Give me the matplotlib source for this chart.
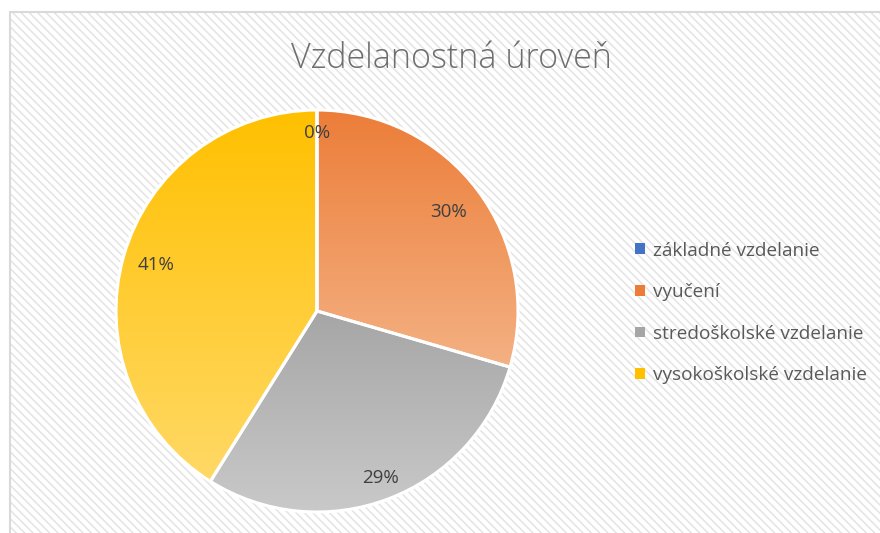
"""Vzdelanostná úroveň - koláčový graf"""
import numpy as np
import matplotlib.pyplot as plt
from matplotlib.patches import Rectangle
from matplotlib.colors import to_rgb

categories = ['základné vzdelanie', 'vyučení', 'stredoškolské vzdelanie',
              'vysokoškolské vzdelanie']
values = [0.0, 29.5, 29.4, 41.1]   # percent
title = 'Vzdelanostná úroveň'

# gradient colors (top, bottom) per slice
top_colors = ['#4472C4', '#EC7D38', '#A6A6A6', '#FFC000']
bot_colors = ['#8FAADC', '#F4B183', '#C9C9C9', '#FFD966']
label_dist = [0.885, 0.82, 0.89, 0.835]

plt.rcParams['font.family'] = ['Open Sans', 'DejaVu Sans']
plt.rcParams['hatch.linewidth'] = 1.1

W, H = 880, 533
fig = plt.figure(figsize=(W / 100, H / 100), dpi=100)
fig.patch.set_facecolor('white')
ax = fig.add_axes([0, 0, 1, 1])

cx, cy, R = 317, H - 311, 201
wedges, _ = ax.pie(values, startangle=90, counterclock=False,
                   center=(cx, cy), radius=R,
                   wedgeprops=dict(facecolor='none', edgecolor='white',
                                   linewidth=2.2, zorder=3))
ax.set_xlim(0, W)
ax.set_ylim(0, H)
ax.set_aspect('auto')
ax.axis('off')

# chart area background (diagonal stripes) + border
ax.add_patch(Rectangle((10, 0), W - 10, H - 12, facecolor='white',
                       edgecolor='#E4E4E4', hatch='\\\\\\\\', linewidth=0,
                       zorder=0))
ax.add_patch(Rectangle((10, -2), W, H - 10, facecolor='none',
                       edgecolor='#D9D9D9', linewidth=1.5, zorder=1))

# gradient fills clipped to the wedges
for w, c0, c1 in zip(wedges, top_colors, bot_colors):
    ext = w.get_path().get_extents()
    if ext.width < 1e-6:
        continue
    t = np.linspace(0, 1, 256)[:, None]
    a, b = np.array(to_rgb(c1)), np.array(to_rgb(c0))
    grad = (a[None, None, :] * (1 - t[..., None]) + b[None, None, :] * t[..., None])
    grad = np.repeat(grad, 2, axis=1)
    im = ax.imshow(grad, extent=(ext.x0, ext.x1, ext.y0, ext.y1),
                   origin='lower', aspect='auto', zorder=2,
                   interpolation='bilinear')
    im.set_clip_path(w)
ax.set_xlim(0, W)
ax.set_ylim(0, H)

# data labels
for w, v, d in zip(wedges, values, label_dist):
    ang = np.deg2rad((w.theta1 + w.theta2) / 2)
    ax.text(cx + d * R * np.cos(ang), cy + d * R * np.sin(ang),
            f'{int(v + 0.5)}%', ha='center', va='center', fontsize=13.5,
            color='#3F3F3F', zorder=4)

ax.text(451, H - 59, title, ha='center', va='center', fontsize=24.5,
        color='#6E6E6E', fontweight='light', zorder=4)

handles = [Rectangle((0, 0), 1, 1, facecolor=c) for c in top_colors]
leg = ax.legend(handles, categories, loc='center left',
                bbox_to_anchor=(635 / W, 1 - 313 / H), frameon=False,
                fontsize=13.7, handlelength=0.5, handleheight=0.5,
                handletextpad=0.45, labelspacing=1.24, borderpad=0,
                borderaxespad=0, labelcolor='#595959')
leg.set_zorder(5)

fig.savefig('out.png', dpi=100)
